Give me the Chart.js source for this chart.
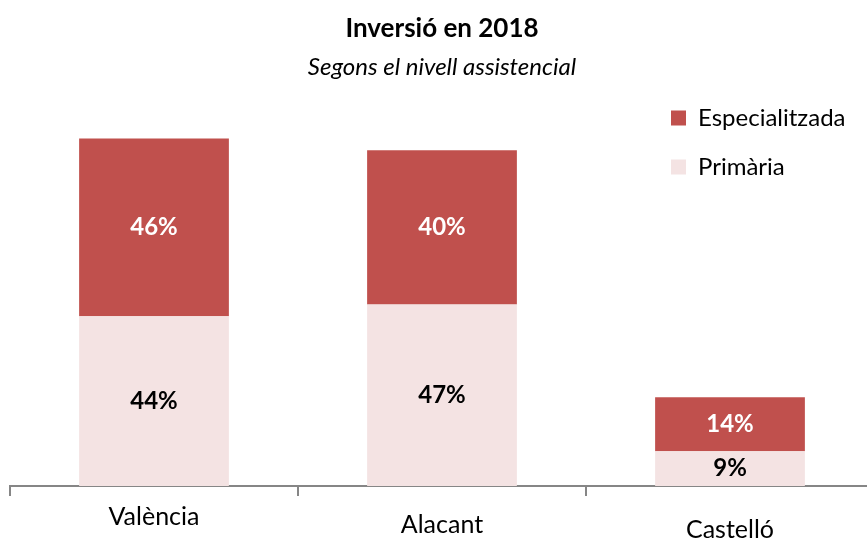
<!DOCTYPE html>
<html>
<head>
<meta charset="utf-8">
<script src="https://cdn.jsdelivr.net/npm/chart.js@4.4.1/dist/chart.umd.min.js"></script>
<style>
    html, body { margin: 0; padding: 0; background: #fff; overflow: hidden; }
    canvas { display: block; }
</style>
</head>
<body>
<canvas id="chart" width="874" height="564"></canvas>
<script>
const categories = ['València', 'Alacant', 'Castelló'];
const primaria = [44, 47, 9];
const especialitzada = [46, 40, 14];
const seriesNames = ['Primària', 'Especialitzada'];

const FONT = 'Lato';
const RED = '#C0504D';
const PINK = '#F4E3E3';
// the labels under the axis sit at slightly different heights in the original
const tickLineHeights = ['19px', '36px', '46px'];

// percent labels centred inside each segment
const segmentLabels = {
    id: 'segmentLabels',
    afterDatasetsDraw(chart) {
        const ctx = chart.ctx;
        ctx.save();
        ctx.font = `bold 24px ${FONT}`;
        ctx.textAlign = 'center';
        ctx.textBaseline = 'middle';
        chart.data.datasets.forEach((ds, i) => {
            const meta = chart.getDatasetMeta(i);
            ctx.fillStyle = i === 1 ? '#fff' : '#000';
            meta.data.forEach((bar, j) => {
                const p = bar.getCenterPoint();
                ctx.fillText(ds.data[j] + '%', p.x, p.y);
            });
        });
        ctx.restore();
    }
};

// legend lives in the top right corner over the plot area
const legendCorner = {
    id: 'legendCorner',
    afterLayout(chart) {
        const lg = chart.legend;
        if (!lg) return;
        lg.left = 646;
        lg.right = lg.left + lg.width;
        lg.top = 81;
        lg.bottom = lg.top + lg.height;
    }
};

new Chart(document.getElementById('chart'), {
    type: 'bar',
    data: {
        labels: categories,
        datasets: [
            { label: seriesNames[0], data: primaria, backgroundColor: PINK },
            { label: seriesNames[1], data: especialitzada, backgroundColor: RED }
        ]
    },
    options: {
        responsive: false,
        animation: false,
        layout: { padding: { left: 10, right: 0, top: 0, bottom: 0 } },
        datasets: { bar: { barPercentage: 0.52, categoryPercentage: 1, borderWidth: 0 } },
        scales: {
            x: {
                stacked: true,
                grid: { display: true, drawOnChartArea: false, drawTicks: true, tickLength: 10, color: '#868686', lineWidth: 2, offset: true },
                border: { display: true, color: '#868686', width: 2 },
                ticks: {
                    color: '#000',
                    padding: 11,
                    font: (c) => ({ family: FONT, size: 25, lineHeight: tickLineHeights[c.index] })
                }
            },
            y: { stacked: true, display: false, min: 0, max: 100 }
        },
        plugins: {
            title: {
                display: true,
                text: 'Inversió en 2018',
                color: '#000',
                font: { family: FONT, size: 26, weight: 'bold' },
                padding: { top: 13, bottom: 6 }
            },
            subtitle: {
                display: true,
                text: 'Segons el nivell assistencial',
                color: '#000',
                font: { family: FONT, size: 24, style: 'italic' },
                padding: { top: 3, bottom: 18 }
            },
            legend: {
                position: 'chartArea',
                align: 'start',
                reverse: true,
                labels: {
                    color: '#000',
                    font: { family: FONT, size: 24 },
                    boxWidth: 15,
                    boxHeight: 15,
                    padding: 25
                }
            },
            tooltip: { enabled: false }
        }
    },
    plugins: [segmentLabels, legendCorner]
});
</script>
</body>
</html>
